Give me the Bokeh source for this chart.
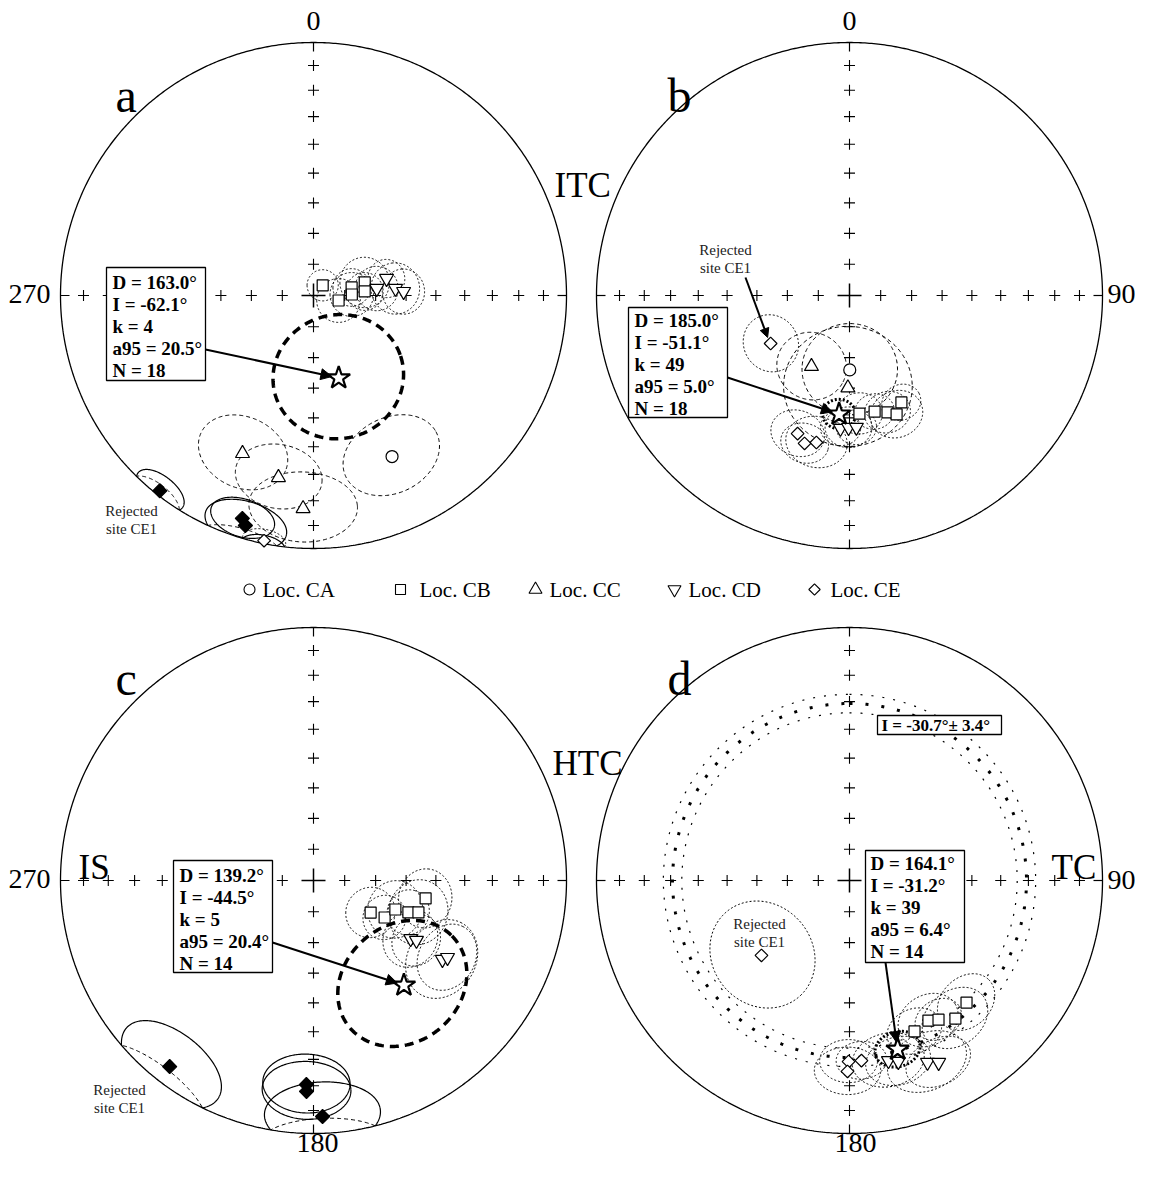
import numpy as np
from bokeh.plotting import figure
from bokeh.models import Range1d, Arrow, NormalHead
from bokeh.core.properties import value
from bokeh.embed import file_html
from bokeh.resources import INLINE

# ---------------- data (declination, inclination, alpha95 of site means) ----------------
# a: ITC, in situ
a_loc = ["CB", "CB", "CB", "CB", "CB", "CB", "CD", "CD", "CD", "CD", "CC", "CC", "CC", "CA", "CE", "CE", "CE"]
a_dec = [42.0, 101.3, 78.1, 88.5, 75.7, 85.5, 83.7, 76.9, 85.1, 87.5, 204.2, 190.9, 182.8, 154.0, 191.4, 197.7, 196.5]
a_inc = [-85.6, -81.8, -77.5, -77.7, -73.0, -73.5, -69.5, -65.8, -63.4, -60.8, -32.1, -27.6, -16.8, -29.9, -1.3, 8.3, 5.8]
a_a95 = [5, 7, 6, 7, 8, 6, 7, 6, 8, 7, 13, 12, 14, 14, 5, 8, 10]

# b: ITC, tilt corrected
b_loc = ["CA", "CC", "CC", "CB", "CB", "CB", "CB", "CB", "CD", "CD", "CD", "CE", "CE", "CE"]
b_dec = [179.8, 208.2, 181.0, 175.2, 167.8, 162.0, 158.4, 154.1, 183.9, 180.4, 177.0, 200.6, 196.9, 192.7]
b_inc = [-66.0, -64.0, -60.1, -51.3, -51.2, -49.8, -48.1, -51.2, -46.3, -46.7, -46.7, -41.3, -38.8, -40.2]
b_a95 = [15, 11, 20, 7, 6, 7, 8, 6, 6, 7, 6, 8, 7, 9]

# c: HTC, in situ
c_loc = ["CB", "CB", "CB", "CB", "CB", "CB", "CD", "CD", "CD", "CD", "CE", "CE", "CE"]
c_dec = [119.3, 117.5, 109.5, 108.6, 106.9, 99.1, 120.9, 120.2, 121.5, 119.9, 182.0, 181.9, 177.8]
c_inc = [-68.9, -64.1, -61.9, -57.5, -54.3, -53.0, -53.1, -51.1, -40.0, -38.8, 20.4, 17.7, 7.4]
c_a95 = [8, 7, 9, 7, 10, 9, 9, 8, 12, 10, 11.5, 11.5, 14]

# d: HTC, tilt corrected
d_loc = ["CB", "CB", "CB", "CB", "CB", "CD", "CD", "CD", "CD", "CE", "CE", "CE"]
d_dec = [156.7, 150.6, 147.4, 142.5, 136.2, 167.8, 164.9, 156.8, 153.9, 180.3, 176.2, 180.6]
d_inc = [-35.3, -36.6, -35.0, -31.8, -33.6, -28.0, -26.8, -22.8, -21.0, -29.2, -29.4, -25.5]
d_a95 = [8, 9, 7, 10, 9, 10, 9, 11, 9, 8, 7, 9]

# rejected site CE1 in panels a, b, c, d
rej_dec = [218.2, 238.7, 217.7, 229.6]
rej_inc = [2.0, -60.1, 7.8, -52.3]
rej_a95 = [6.5, 9, 14, 17]

# Fisher means per panel
mean_dec = [163.0, 185.0, 139.2, 164.1]
mean_inc = [-62.1, -51.1, -44.5, -31.2]
mean_k = [4, 49, 5, 39]
mean_a95 = [20.5, 5.0, 20.4, 6.4]
mean_n = [18, 18, 14, 14]

# inclination-only mean (panel d)
inc_only = -30.7
inc_only_err = 3.4

loc_codes = ["CA", "CB", "CC", "CD", "CE"]
legend_labels = ["Loc. CA", "Loc. CB", "Loc. CC", "Loc. CD", "Loc. CE"]
panel_letters = ["a", "b", "c", "d"]
panel_tags = ["ITC", "HTC", "IS", "TC"]

# ---------------- layout / style ----------------
W, H = 1135, 1162
R = 253.0
centers = [(313, 295), (849, 295), (313, 880), (849, 880)]
SERIF = value("Liberation Serif")

MARK = {"CA": ("circle", 12, 0.0), "CB": ("square", 11, 0.0), "CC": ("triangle", 14, 0.0),
        "CD": ("inverted_triangle", 14, 0.0), "CE": ("square", 9, np.pi / 4)}
UPPER = {"CA": "dash", "CB": "dot", "CC": "dash", "CD": "dot", "CE": "dot"}
STYLES = {"dot": dict(line_dash="2 2", line_width=1.0),
          "dash": dict(line_dash="4 3", line_width=1.0),
          "solid": dict(line_dash="solid", line_width=1.2),
          "mean": dict(line_dash="9 6", line_width=3.5),
          "mean_small": dict(line_dash="2 2", line_width=3.0)}

p = figure(width=W, height=H, x_range=Range1d(0, W), y_range=Range1d(H, 0),
           output_backend="svg", toolbar_location=None, min_border=0,
           x_axis_location=None, y_axis_location=None)
p.grid.visible = False
p.outline_line_color = None
p.background_fill_color = "white"
p.border_fill_color = "white"


def proj(dec, inc, cx, cy):
    dec = np.radians(np.asarray(dec, float))
    th = np.radians(90.0 - np.abs(np.asarray(inc, float)))
    rho = R * np.sqrt(2.0) * np.sin(th / 2.0)
    return cx + rho * np.sin(dec), cy - rho * np.cos(dec)


def small_circle(dec, inc, a95, n=241):
    D, I = np.radians(dec), np.radians(inc)
    m = np.array([np.cos(I) * np.cos(D), np.cos(I) * np.sin(D), np.sin(I)])
    ref = np.array([0.0, 0.0, 1.0]) if abs(m[2]) < 0.9 else np.array([1.0, 0.0, 0.0])
    u = np.cross(m, ref)
    u /= np.linalg.norm(u)
    w = np.cross(m, u)
    t = np.linspace(0, 2 * np.pi, n)
    a = np.radians(a95)
    v = np.cos(a) * m[:, None] + np.sin(a) * (np.cos(t) * u[:, None] + np.sin(t) * w[:, None])
    return np.degrees(np.arctan2(v[1], v[0])), np.degrees(np.arcsin(np.clip(v[2], -1, 1)))


segs = {k: ([], []) for k in STYLES}


def add_circle(dec, inc, a95, cx, cy, upper_style, lower_style):
    dc, ic = small_circle(dec, inc, a95)
    x, y = proj(dc, ic, cx, cy)
    neg = ic < 0
    start = 0
    n = len(ic)
    for i in range(1, n + 1):
        if i == n or neg[i] != neg[start]:
            sl = slice(start, min(i + 1, n))
            st = upper_style if neg[start] else lower_style
            segs[st][0].append(list(x[sl]))
            segs[st][1].append(list(y[sl]))
            start = i


# ---------------- stereonet frames ----------------
tick_inc = np.arange(10, 90, 10)
for (cx, cy) in centers:
    t = np.linspace(0, 2 * np.pi, 721)
    p.line(cx + R * np.cos(t), cy + R * np.sin(t), line_color="black", line_width=1.3)
    xs, ys = [], []
    for az in (0, 90, 180, 270):
        x, y = proj(np.full(len(tick_inc), az), tick_inc, cx, cy)
        xs += list(x)
        ys += list(y)
    p.scatter(xs, ys, marker="cross", size=11, line_width=1.1, line_color="black")
    p.scatter([cx], [cy], marker="cross", size=24, line_width=1.5, line_color="black")
    ex, ey = [], []
    for az in (0, 90, 180, 270):
        r = np.radians(az)
        ex.append([cx + R * np.sin(r), cx + (R - 9) * np.sin(r)])
        ey.append([cy - R * np.cos(r), cy - (R - 9) * np.cos(r)])
    p.multi_line(ex, ey, line_color="black", line_width=1.2)

# ---------------- confidence circles ----------------
panels = [(a_loc, a_dec, a_inc, a_a95), (b_loc, b_dec, b_inc, b_a95),
          (c_loc, c_dec, c_inc, c_a95), (d_loc, d_dec, d_inc, d_a95)]
for k, (locs, decs, incs, a95s) in enumerate(panels):
    cx, cy = centers[k]
    for lo, de, ii, aa in zip(locs, decs, incs, a95s):
        add_circle(de, ii, aa, cx, cy, UPPER[lo] if ii < 0 else "dash", "solid")
    add_circle(rej_dec[k], rej_inc[k], rej_a95[k], cx, cy, "dot" if rej_inc[k] < 0 else "dash", "solid")
    add_circle(mean_dec[k], mean_inc[k], mean_a95[k], cx, cy,
               "mean" if mean_a95[k] > 10 else "mean_small", "mean")

# inclination-only rings (panel d)
cx, cy = centers[3]
ring_dec = np.linspace(0, 360, 721)
for inc_v, lw, dash in ((inc_only, 3.0, "3 13"), (inc_only - inc_only_err, 1.2, "2 9"),
                        (inc_only + inc_only_err, 1.2, "2 9")):
    rx, ry = proj(ring_dec, np.full(len(ring_dec), inc_v), cx, cy)
    p.line(rx, ry, line_color="black", line_width=lw, line_dash=dash)

for st, (xs, ys) in segs.items():
    if xs:
        p.multi_line(xs, ys, line_color="black", **STYLES[st])

# ---------------- site symbols ----------------
for k, (locs, decs, incs, a95s) in enumerate(panels):
    cx, cy = centers[k]
    allloc = list(locs) + ["CE"]
    alldec = list(decs) + [rej_dec[k]]
    allinc = list(incs) + [rej_inc[k]]
    for lo in loc_codes:
        idx = [i for i, l in enumerate(allloc) if l == lo]
        if not idx:
            continue
        x, y = proj([alldec[i] for i in idx], [allinc[i] for i in idx], cx, cy)
        fills = ["black" if allinc[i] > 0 else "white" for i in idx]
        mk, sz, ang = MARK[lo]
        if lo == "CE":
            sz_list = [sz + 1 if allinc[i] > 0 else sz for i in idx]
        else:
            sz_list = [sz] * len(idx)
        p.scatter(list(x), list(y), marker=mk, size=sz_list, angle=ang, fill_color=fills,
                  line_color="black", line_width=1.2)
    sx, sy = proj([mean_dec[k]], [mean_inc[k]], cx, cy)
    p.scatter(list(sx), list(sy), marker="star", size=24, fill_color="white",
              line_color="black", line_width=2.2)

# ---------------- statistics boxes and arrows ----------------
box_rect = [(106, 205, 267, 380), (628, 727, 307, 417), (173, 272, 860, 972), (865, 964, 850, 962)]
box_text = [(112, 282), (634, 320), (179, 875), (870, 863)]
arrow_start = [(205, 349), (727, 377), (272, 942), (885, 962)]
for k in range(4):
    l, r, tp, bt = box_rect[k]
    p.quad(left=[l], right=[r], top=[tp], bottom=[bt], fill_color="white",
           line_color="black", line_width=1.3)
    lines = [f"D = {mean_dec[k]:.1f}°", f"I = {mean_inc[k]:.1f}°", f"k = {mean_k[k]}",
             f"a95 = {mean_a95[k]:.1f}°", f"N = {mean_n[k]}"]
    tx, ty = box_text[k]
    p.text(x=[tx] * 5, y=[ty + 21.9 * i for i in range(5)], text=lines, text_font=SERIF,
           text_font_style="bold", text_font_size="19px", text_baseline="middle",
           text_align="left", text_color="black")
    cx, cy = centers[k]
    sx, sy = proj([mean_dec[k]], [mean_inc[k]], cx, cy)
    x0, y0 = arrow_start[k]
    dx, dy = sx[0] - x0, sy[0] - y0
    L = np.hypot(dx, dy)
    p.add_layout(Arrow(end=NormalHead(size=11, fill_color="black", line_color="black"),
                       x_start=x0, y_start=y0, x_end=sx[0] - 7 * dx / L, y_end=sy[0] - 7 * dy / L,
                       line_width=2, line_color="black"))

# inclination-only box (panel d)
p.quad(left=[877], right=[1001], top=[715], bottom=[734], fill_color="white",
       line_color="black", line_width=1.3)
p.text(x=[881], y=[725], text=[f"I = {inc_only:.1f}°± {inc_only_err:.1f}°"], text_font=SERIF,
       text_font_style="bold", text_font_size="17px", text_baseline="middle", text_align="left")

# rejected-site labels
rej_lab = [(131, 510), (725, 249), (119, 1089), (759, 923)]
for (lx, ly) in rej_lab:
    p.text(x=[lx, lx], y=[ly, ly + 18], text=["Rejected", "site CE1"], text_font=SERIF,
           text_font_size="15px", text_baseline="middle", text_align="center", text_color="#222222")
# arrow to rejected site in panel b
cx, cy = centers[1]
rx, ry = proj([rej_dec[1]], [rej_inc[1]], cx, cy)
p.add_layout(Arrow(end=NormalHead(size=9, fill_color="black", line_color="black"),
                   x_start=745, y_start=277, x_end=rx[0] - 3, y_end=ry[0] - 6,
                   line_width=2, line_color="black"))

# ---------------- direction labels ----------------
p.text(x=[313, 849], y=[20, 20], text=["0", "0"], text_font=SERIF, text_font_size="28px",
       text_align="center", text_baseline="middle")
p.text(x=[50, 50], y=[293, 878], text=["270", "270"], text_font=SERIF, text_font_size="28px",
       text_align="right", text_baseline="middle")
p.text(x=[1107, 1107], y=[293, 879], text=["90", "90"], text_font=SERIF, text_font_size="28px",
       text_align="left", text_baseline="middle")
p.text(x=[317, 855], y=[1142, 1142], text=["180", "180"], text_font=SERIF, text_font_size="28px",
       text_align="center", text_baseline="middle")

# panel letters and tags
p.text(x=[115, 667, 115, 667], y=[95, 95, 678, 678], text=panel_letters, text_font=SERIF,
       text_font_size="48px", text_align="left", text_baseline="alphabetic")
p.text(x=[554, 552, 78, 1051], y=[185, 763, 867, 867], text=panel_tags, text_font=SERIF,
       text_font_size="35px", text_align="left", text_baseline="alphabetic")

# ---------------- legend ----------------
leg_mx = [249, 400, 535, 674, 814]
leg_tx = [262, 419, 549, 688, 830]
for i, lo in enumerate(loc_codes):
    mk, sz, ang = MARK[lo]
    p.scatter([leg_mx[i]], [589], marker=mk, size=sz - 1, angle=ang, fill_color="white",
              line_color="black", line_width=1.1)
p.text(x=leg_tx, y=[589] * 5, text=legend_labels, text_font=SERIF, text_font_size="21px",
       text_align="left", text_baseline="middle")

open("out.html", "w").write(file_html(p, INLINE))
